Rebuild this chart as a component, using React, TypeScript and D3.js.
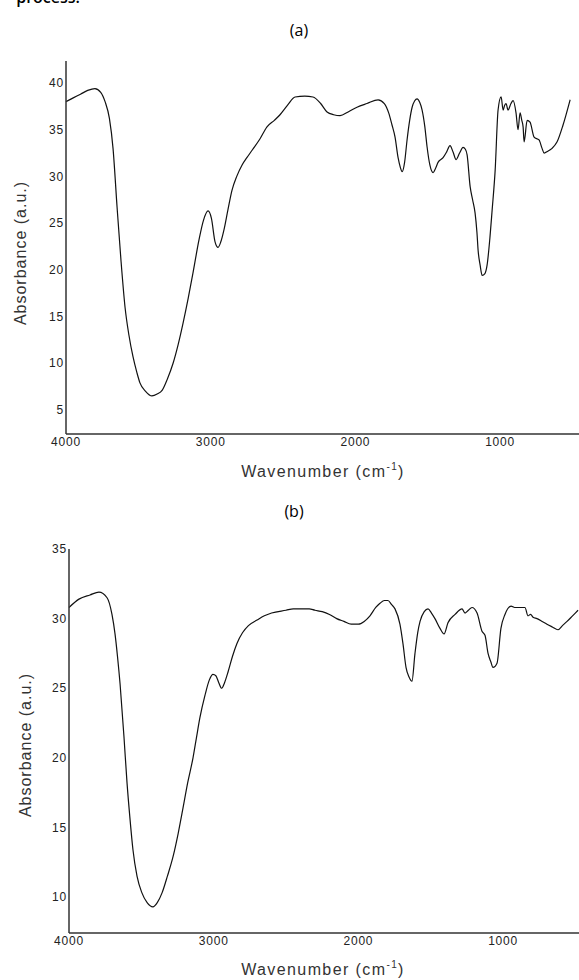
import * as d3 from 'd3'

// FTIR spectra
const waveA = [4000, 3950, 3900, 3850, 3800, 3760, 3730, 3700, 3675, 3647, 3620, 3592, 3565, 3537, 3510, 3489, 3450, 3406, 3370, 3336, 3300, 3260, 3225, 3191, 3155, 3122, 3081, 3050, 3018, 2995, 2970, 2949, 2930, 2908, 2880, 2853, 2820, 2784, 2750, 2714, 2660, 2611, 2560, 2521, 2470, 2417, 2350, 2293, 2240, 2196, 2150, 2106, 2050, 1989, 1920, 1843, 1800, 1770, 1747, 1726, 1705, 1690, 1677, 1660, 1643, 1625, 1608, 1590, 1574, 1555, 1539, 1520, 1505, 1485, 1463, 1445, 1429, 1394, 1370, 1346, 1325, 1304, 1280, 1256, 1240, 1228, 1207, 1190, 1173, 1160, 1152, 1138, 1124, 1105, 1090, 1070, 1055, 1034, 1014, 993, 979, 969, 959, 945, 925, 910, 890, 876, 862, 850, 841, 834, 813, 793, 765, 731, 710, 696, 670, 641, 606, 565, 516]
const absA = [38.0, 38.4, 38.8, 39.2, 39.4, 39.0, 38.0, 36.2, 33.0, 26.7, 21.0, 16.0, 13.0, 10.7, 9.0, 7.9, 7.0, 6.5, 6.7, 7.1, 8.3, 10.0, 12.0, 14.3, 17.0, 19.7, 23.2, 25.3, 26.3, 25.5, 23.0, 22.4, 23.0, 24.3, 26.5, 28.5, 30.0, 31.2, 32.0, 32.8, 34.0, 35.3, 36.0, 36.6, 37.6, 38.5, 38.6, 38.5, 37.8, 36.9, 36.6, 36.5, 36.9, 37.4, 37.8, 38.2, 37.8, 36.8, 35.5, 34.2, 32.0, 31.0, 30.5, 31.5, 33.9, 36.0, 37.4, 38.1, 38.3, 37.9, 37.1, 35.3, 33.2, 31.2, 30.4, 30.9, 31.5, 32.0, 32.6, 33.3, 32.6, 31.8, 32.5, 33.1, 32.9, 32.3, 28.9, 27.5, 26.1, 24.0, 22.1, 20.5, 19.4, 19.6, 20.5, 23.5, 26.4, 30.7, 37.1, 38.5, 37.1, 37.6, 37.8, 37.1, 37.8, 38.1, 36.8, 35.0, 36.8, 36.0, 35.3, 33.7, 36.0, 35.8, 34.2, 33.9, 33.0, 32.5, 32.7, 33.0, 33.7, 35.5, 38.2]

const waveB = [4000, 3931, 3855, 3793, 3737, 3703, 3682, 3665, 3647, 3620, 3599, 3580, 3558, 3530, 3496, 3460, 3420, 3390, 3357, 3320, 3281, 3245, 3212, 3180, 3143, 3120, 3095, 3060, 3030, 3005, 2985, 2965, 2945, 2925, 2900, 2870, 2840, 2800, 2760, 2700, 2650, 2600, 2500, 2450, 2400, 2340, 2300, 2250, 2200, 2150, 2100, 2050, 2000, 1960, 1920, 1880, 1851, 1820, 1796, 1770, 1747, 1713, 1692, 1671, 1650, 1630, 1609, 1590, 1574, 1545, 1519, 1495, 1471, 1436, 1408, 1381, 1332, 1284, 1263, 1240, 1215, 1180, 1146, 1125, 1104, 1085, 1070, 1042, 1015, 987, 945, 920, 897, 849, 828, 810, 793, 766, 730, 697, 660, 621, 590, 558, 520, 482]
const absB = [30.8, 31.4, 31.7, 31.9, 31.5, 30.3, 28.9, 27.3, 25.3, 21.5, 18.2, 15.8, 13.4, 11.5, 10.3, 9.6, 9.3, 9.6, 10.3, 11.5, 12.9, 14.6, 16.4, 18.2, 20.0, 21.4, 22.9, 24.5, 25.6, 26.0, 25.9, 25.4, 25.0, 25.4, 26.2, 27.3, 28.2, 29.0, 29.5, 29.9, 30.2, 30.4, 30.6, 30.7, 30.7, 30.7, 30.6, 30.5, 30.3, 30.0, 29.8, 29.6, 29.6, 29.8, 30.2, 30.8, 31.1, 31.3, 31.3, 31.0, 30.7, 29.6, 28.2, 26.5, 25.8, 25.5, 27.5, 29.0, 29.8, 30.5, 30.7, 30.4, 30.0, 29.3, 28.9, 29.7, 30.3, 30.7, 30.4, 30.6, 30.8, 30.4, 29.1, 28.8, 27.5, 26.9, 26.5, 26.8, 29.3, 30.3, 30.9, 30.8, 30.8, 30.8, 30.2, 30.3, 30.1, 30.0, 29.8, 29.6, 29.4, 29.2, 29.5, 29.8, 30.2, 30.6]

const xTicks = [4000, 3000, 2000, 1000]
const yTicksA = [5, 10, 15, 20, 25, 30, 35, 40]
const yTicksB = [10, 15, 20, 25, 30, 35]

function Spectrum({ waves, values, x0, y0, y1, yDomain, yTicks, label, labelY, titleY, xLabelY, yLabelX }) {
  const x = d3.scaleLinear().domain([4000, 400]).range([x0, x0 + 3600 * 0.1447])
  const y = d3.scaleLinear().domain(yDomain).range([y1, y0])
  const line = d3.line<number>()
    .x((_, i) => x(waves[i]))
    .y(d => y(d))
    .curve(d3.curveMonotoneX)

  const tickFont = { fontFamily: 'Liberation Sans, Arial, sans-serif', fontSize: 12, letterSpacing: 0.8, fill: '#222' }
  const labelFont = { fontFamily: 'Liberation Sans, Arial, sans-serif', fontSize: 16, letterSpacing: 1, fill: '#333' }

  return (
    <g>
      <text x={label === '(a)' ? 299 : 294} y={titleY} textAnchor="middle"
        style={{ fontFamily: 'Open Sans, sans-serif', fontSize: 16, fill: '#000' }}>{label}</text>

      <path d={line(values)} fill="none" stroke="#111" strokeWidth={1.2} strokeLinejoin="round" />

      <line x1={x0} x2={x0} y1={y0} y2={y1} stroke="#333" strokeWidth={1.5} />
      <line x1={x0} x2={579} y1={y1} y2={y1} stroke="#333" strokeWidth={1.5} />

      {yTicks.map(t => (
        <text key={t} x={x0 - 2} y={y(t)} dy="0.35em" textAnchor="end" style={tickFont}>{t}</text>
      ))}
      {xTicks.map(t => (
        <text key={t} x={x(t)} y={y1 + 12} textAnchor="middle" style={tickFont}>{t}</text>
      ))}

      <text transform={`translate(${yLabelX},${labelY}) rotate(-90)`} textAnchor="middle" dy="0.35em" style={labelFont}>
        Absorbance (a.u.)
      </text>
      <text x={323} y={xLabelY} textAnchor="middle" style={{ ...labelFont, letterSpacing: 1.4 }}>
        Wavenumber (cm<tspan dy={-7} fontSize={10}>-1</tspan><tspan dy={7}>)</tspan>
      </text>
    </g>
  )
}

export default function App() {
  return (
    <div style={{ position: 'absolute', left: 0, top: 0 }}>
      <svg width={579} height={980} style={{ display: 'block', background: '#fff' }}>
        <text x={80} y={3} textAnchor="end"
          style={{ fontFamily: 'Open Sans, sans-serif', fontSize: 16, fontWeight: 600, fill: '#000' }}>process.</text>
        <Spectrum waves={waveA} values={absA} x0={66} y0={61} y1={434} yDomain={[2.43, 42.35]}
          yTicks={yTicksA} label="(a)" labelY={253} titleY={36} xLabelY={477} yLabelX={20} />
        <Spectrum waves={waveB} values={absB} x0={69} y0={549} y1={933} yDomain={[7.42, 35]}
          yTicks={yTicksB} label="(b)" labelY={745} titleY={517} xLabelY={975} yLabelX={25} />
      </svg>
    </div>
  )
}
